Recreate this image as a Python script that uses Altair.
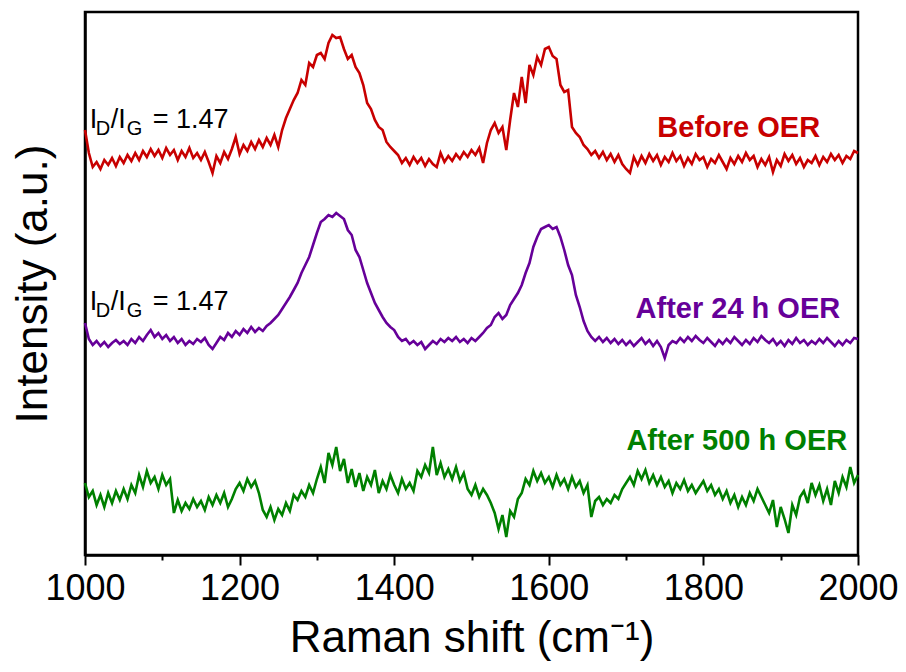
import altair as alt
import pandas as pd

# Raman shift grid (cm^-1), one reading every 5 cm^-1
wavenumber = list(range(1000, 2001, 5))

# Stacked spectra (a.u.), each already carrying its vertical offset
before_oer = [
    425, 402, 388, 393, 386, 395, 390, 397, 389, 398,
    392, 400, 394, 402, 395, 404, 398, 406, 399, 405,
    397, 407, 400, 405, 395, 404, 398, 407, 397, 402,
    395, 403, 393, 382, 399, 392, 403, 396, 406, 418,
    401, 410, 404, 413, 406, 415, 408, 417, 410, 420,
    408, 425, 437, 446, 455, 462, 475, 470, 492, 488,
    500, 502, 496, 512, 520, 517, 518, 506, 496, 500,
    488, 482, 470, 452, 446, 435, 428, 425, 413, 408,
    404, 400, 392, 397, 390, 398, 392, 397, 389, 396,
    391, 388, 402, 393, 399, 394, 401, 396, 403, 398,
    405, 400, 407, 392, 412, 425, 432, 422, 428, 405,
    435, 462, 448, 478, 452, 490, 480, 498, 490, 506,
    508, 499, 496, 470, 463, 465, 428, 422, 418, 410,
    406, 400, 404, 397, 403, 395, 401, 393, 400, 391,
    386, 382, 398, 390, 399, 392, 401, 394, 400, 390,
    398, 393, 402, 394, 399, 389, 397, 391, 401, 395,
    398, 388, 396, 392, 400, 393, 386, 397, 391, 399,
    393, 402, 395, 399, 388, 396, 390, 398, 383, 395,
    389, 401, 394, 400, 391, 397, 388, 395, 392, 399,
    390, 398, 393, 401, 395, 400, 392, 399, 396, 404,
    402,
]

after_24h = [
    232, 216, 210, 214, 209, 213, 208, 212, 215, 211,
    214, 210, 216, 212, 218, 214, 220, 225, 218, 222,
    216, 220, 214, 218, 212, 216, 210, 214, 211, 216,
    213, 217, 210, 206, 212, 218, 215, 222, 218, 224,
    220, 226, 222, 228, 223, 227, 224, 229, 232, 236,
    240, 246, 252, 258, 265, 272, 282, 290, 298, 310,
    322, 333, 336, 340, 338, 342, 339, 336, 325, 320,
    305, 298, 285, 272, 262, 252, 245, 238, 232, 228,
    225, 218, 214, 216, 211, 214, 210, 213, 206, 210,
    214, 211, 216, 213, 217, 214, 218, 213, 216, 212,
    217, 214, 218, 222, 227, 230, 238, 242, 236, 240,
    250, 256, 262, 270, 282, 292, 308, 318, 326, 328,
    330, 326, 328, 318, 305, 290, 280, 260, 248, 234,
    224, 218, 214, 218, 213, 217, 212, 216, 211, 215,
    210, 214, 209, 213, 217, 211, 215, 209, 214, 208,
    197, 210, 214, 212, 217, 213, 218, 214, 219, 215,
    212, 217, 213, 209, 215, 211, 216, 212, 218, 214,
    210, 215, 211, 217, 213, 219, 215, 212, 216, 210,
    214, 209, 215, 211, 217, 212, 215, 210, 214, 211,
    216, 212, 217, 213, 209, 214, 210, 215, 212, 217,
    216,
]

after_500h = [
    72, 58, 64, 50, 60, 48, 62, 52, 64, 55,
    66, 56, 70, 62, 80, 68, 84, 72, 78, 66,
    80, 70, 76, 42, 55, 44, 52, 46, 56, 48,
    54, 45, 58, 50, 60, 52, 62, 48, 56, 66,
    72, 64, 76, 68, 74, 62, 45, 38, 48, 35,
    46, 40, 52, 44, 60, 55, 64, 58, 70, 62,
    76, 88, 72, 102, 90, 108, 84, 96, 72, 86,
    68, 82, 64, 78, 70, 85, 62, 74, 66, 80,
    70, 62, 76, 66, 72, 64, 84, 78, 90, 82,
    108, 80, 92, 78, 86, 76, 88, 74, 82, 66,
    60, 70, 58, 66, 60, 52, 42, 26, 40, 18,
    44, 38, 56, 62, 76, 70, 84, 74, 82, 72,
    78, 68, 80, 70, 76, 66, 78, 68, 74, 62,
    70, 38, 54, 58, 50, 56, 52, 60, 56, 66,
    72, 78, 70, 84, 76, 85, 72, 80, 70, 78,
    68, 74, 62, 72, 66, 75, 64, 70, 62, 68,
    74, 64, 70, 60, 66, 56, 64, 52, 60, 48,
    58, 50, 62, 54, 66, 58, 50, 42, 55, 28,
    48, 36, 22, 50, 40, 58, 64, 52, 72, 60,
    70, 54, 66, 50, 74, 62, 78, 68, 88, 72,
    80,
]

series_names = ["Before OER", "After 24 h OER", "After 500 h OER"]
series_colors = ["#C80000", "#660099", "#008000"]

# Series labels: right edge position (cm^-1) and vertical centre (a.u.)
label_x = [1951, 1977, 1986]
label_y = [427, 246, 114]

# I_D/I_G annotations: left anchor (cm^-1), baseline (a.u.), ratio text
ratio_x = [1006, 1006]
ratio_y = [427, 245]
ratio_text = ["1.47", "1.47"]

FONT = "Liberation Sans"

spectra = pd.DataFrame({
    "shift": wavenumber * 3,
    "intensity": before_oer + after_24h + after_500h,
    "sample": [n for n in series_names for _ in wavenumber],
})
labels = pd.DataFrame({"sample": series_names, "x": label_x, "y": label_y})
ratios = pd.DataFrame({"x": ratio_x, "y": ratio_y, "value": ratio_text})

color = alt.Color("sample:N", scale=alt.Scale(domain=series_names, range=series_colors), legend=None)

x_scale = alt.Scale(domain=[1000, 2000], nice=False, zero=False)
y_scale = alt.Scale(domain=[0, 543], nice=False, zero=False)

x_axis = alt.Axis(
    title="Raman shift (cm⁻¹)",
    values=list(range(1000, 2001, 100)),
    labelExpr="datum.value % 200 === 0 ? datum.label : ''",
    format="d",
    labelFlush=False,
    labelOverlap=False,
    labelFontSize=36,
    labelFont=FONT,
    labelColor="black",
    labelPadding=6,
    tickColor="black",
    tickWidth=2,
    tickSize={"condition": {"test": "datum.value % 200 === 0", "value": 10}, "value": 5},
    domainColor="black",
    domainWidth=2.5,
    grid=False,
    titleFont=FONT,
    titleFontSize=44,
    titleFontWeight="normal",
    titleColor="black",
    titlePadding=10,
)
y_axis = alt.Axis(
    title="Intensity (a.u.)",
    labels=False,
    ticks=False,
    grid=False,
    domainColor="black",
    domainWidth=2.5,
    titleFont=FONT,
    titleFontSize=44,
    titleFontWeight="normal",
    titleColor="black",
    titlePadding=30,
)

lines = alt.Chart(spectra).mark_line(strokeWidth=2.6).encode(
    x=alt.X("shift:Q", scale=x_scale, axis=x_axis),
    y=alt.Y("intensity:Q", scale=y_scale, axis=y_axis),
    color=color,
    detail="sample:N",
)

names = alt.Chart(labels).mark_text(
    align="right", baseline="middle", font=FONT, fontSize=29, fontWeight="bold"
).encode(
    x=alt.X("x:Q", scale=x_scale),
    y=alt.Y("y:Q", scale=y_scale),
    text="sample:N",
    color=color,
)


def ratio_piece(text, dx, dy=0, size=27):
    return alt.Chart(ratios).mark_text(
        align="left", baseline="alphabetic", font=FONT, fontSize=size,
        color="black", dx=dx, dy=dy,
    ).encode(
        x=alt.X("x:Q", scale=x_scale),
        y=alt.Y("y:Q", scale=y_scale),
        text=text,
    )


ratio_layers = [
    ratio_piece(alt.value("I"), 0),
    ratio_piece(alt.value("D"), 6, 7, 20),
    ratio_piece(alt.value("/I"), 21),
    ratio_piece(alt.value("G"), 37, 7, 20),
    ratio_piece(alt.Text("value:N"), 63).transform_calculate(label="'= ' + datum.value").encode(text="label:N"),
]

chart = alt.layer(lines, names, *ratio_layers).properties(
    width=773,
    height=543,
    autosize=alt.AutoSizeParams(type="none"),
    padding={"left": 85, "top": 12, "right": 48, "bottom": 117},
    background="white",
).configure_view(stroke="black", strokeWidth=2.5)

chart.save("out.html", embed_options={"renderer": "svg", "actions": False})
